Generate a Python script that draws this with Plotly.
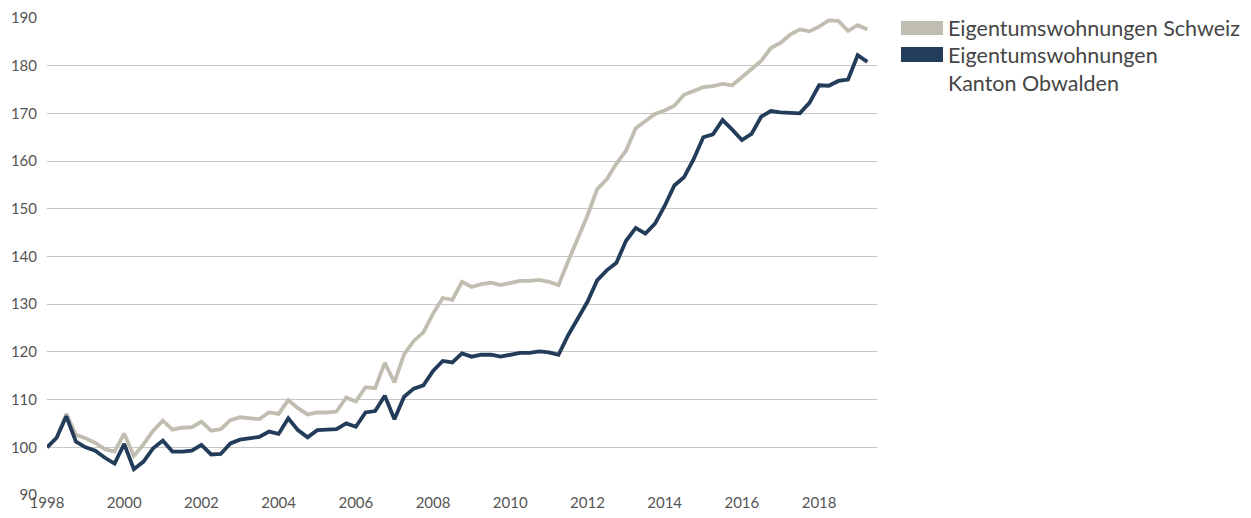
import plotly.graph_objects as go

years = [1998 + 0.25 * i for i in range(86)]

schweiz = [100, 102, 107, 102.6, 101.9, 100.9, 99.6, 99.1, 102.9, 98.2,
           100.6, 103.5, 105.6, 103.7, 104.1, 104.2, 105.4, 103.5, 103.8, 105.7,
           106.3, 106.1, 105.9, 107.3, 107.0, 109.9, 108.2, 106.9, 107.3, 107.3,
           107.5, 110.4, 109.6, 112.6, 112.4, 117.7, 113.6, 119.5, 122.3, 124.1,
           128.0, 131.3, 130.9, 134.7, 133.6, 134.2, 134.5, 134.0, 134.5, 134.9,
           134.9, 135.1, 134.7, 134.0, 139.0, 143.7, 148.6, 154.1, 156.2, 159.5,
           162.2, 166.9, 168.5, 169.9, 170.6, 171.6, 173.9, 174.8, 175.5, 175.7,
           176.2, 175.9, 177.6, 179.5, 181.0, 183.7, 184.8, 186.5, 187.6, 187.2,
           188.2, 189.5, 189.4, 187.3, 188.5, 187.6]

obwalden = [100, 102, 106.5, 101.2, 100.0, 99.3, 97.8, 96.6, 100.7, 95.4,
            97.0, 99.8, 101.4, 99.1, 99.1, 99.3, 100.5, 98.5, 98.6, 100.8,
            101.6, 101.9, 102.2, 103.3, 102.8, 106.1, 103.6, 102.1, 103.6, 103.7,
            103.8, 105.0, 104.3, 107.3, 107.6, 110.8, 105.9, 110.6, 112.3, 113.0,
            116.0, 118.1, 117.8, 119.7, 119.0, 119.4, 119.4, 119.0, 119.4, 119.8,
            119.8, 120.1, 119.9, 119.4, 123.5, 127.0, 130.5, 135.0, 137.1, 138.7,
            143.3, 146.0, 144.8, 146.9, 150.6, 154.9, 156.6, 160.4, 165.0, 165.6,
            168.6, 166.6, 164.4, 165.7, 169.3, 170.5, 170.2, 170.1, 170.0, 172.2,
            175.9, 175.8, 176.8, 177.1, 182.2, 180.8]

names = ["Eigentumswohnungen Schweiz", "Eigentumswohnungen<br>Kanton Obwalden"]
colors = ["#C1BDB1", "#233C5A"]
x_ticks = list(range(1998, 2020, 2))
y_ticks = list(range(90, 200, 10))

# page body has an 8px margin, so the figure is offset by 8px on screen;
# shrink the figure so the page does not overflow the 1251x518 window
OFF = 8
W, H = 1251 - 2 * OFF, 518 - 2 * OFF
L, T = 47 - OFF, 18 - OFF
R = W - (877 - OFF)
B = H - (495 - OFF)
pw, ph = W - L - R, H - T - B


def px_x(xs):
    return (xs - OFF - L) / pw


def px_y(ys):
    return (H - B - (ys - OFF)) / ph


fig = go.Figure()
for name, vals, col in zip(names, [schweiz, obwalden], colors):
    fig.add_trace(go.Scatter(x=years, y=vals, mode="lines", name=name,
                             line=dict(color=col, width=3.8), showlegend=False))

# custom legend (swatches + labels), positions in screen pixels
legend_rows = [(21, 35, 28), (47, 62, 69)]
for name, col, (y0, y1, yc) in zip(names, colors, legend_rows):
    fig.add_shape(type="rect", xref="paper", yref="paper",
                  x0=px_x(901), x1=px_x(943), y0=px_y(y1), y1=px_y(y0),
                  fillcolor=col, line=dict(width=0))
    fig.add_annotation(xref="paper", yref="paper", x=px_x(946), y=px_y(yc),
                       xanchor="left", yanchor="middle", align="left",
                       text=name, showarrow=False,
                       font=dict(size=21.5, color="#454545", family="Lato"))

fig.update_layout(
    width=W, height=H,
    margin=dict(l=L, r=R, t=T, b=B),
    plot_bgcolor="white", paper_bgcolor="white",
    showlegend=False,
    font=dict(family="Lato", color="#555555", size=15),
    xaxis=dict(range=[1998, 2019.5], tickvals=x_ticks, showgrid=False,
               zeroline=False, showline=False, ticks="", automargin=False,
               ticklabelstandoff=-3, tickfont=dict(size=15)),
    yaxis=dict(range=[90, 190], tickvals=y_ticks, showgrid=True,
               gridcolor="#C4C6C8", gridwidth=1, zeroline=False, showline=False,
               ticks="", ticklabelstandoff=9, automargin=False,
               tickfont=dict(size=15)),
)
fig.write_html("out.html")
